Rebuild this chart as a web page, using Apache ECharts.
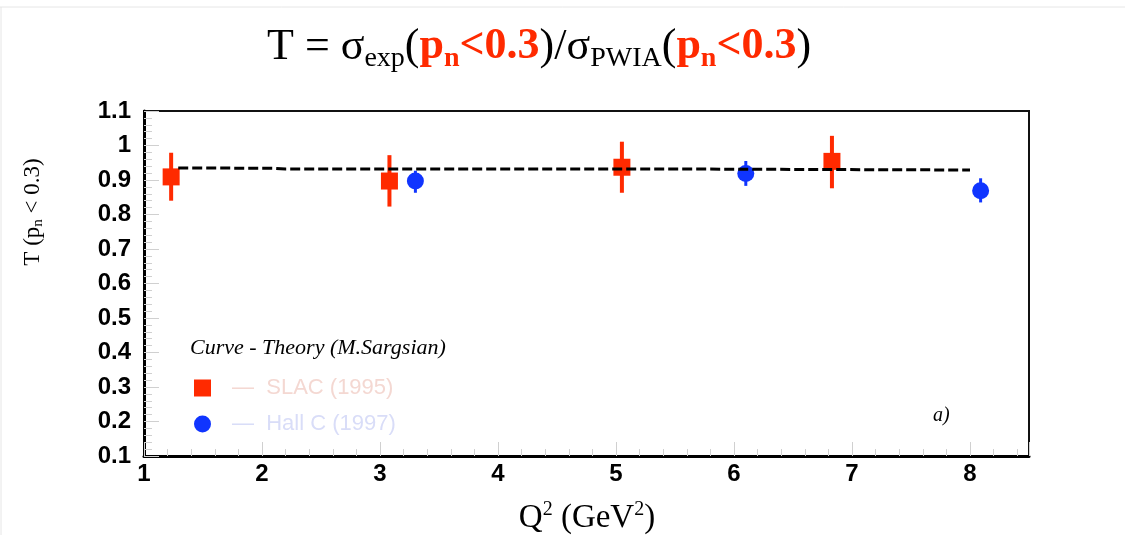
<!DOCTYPE html>
<html>
<head>
<meta charset="utf-8">
<script src="https://cdn.jsdelivr.net/npm/echarts@6/dist/echarts.min.js"></script>
<style>
html,body{margin:0;padding:0;background:#fff;}
#main{width:1125px;height:535px;}
</style>
</head>
<body>
<div id="main"></div>
<script>
// SLAC (1995): [Q2, T]
var slacPoints = [[1.23, 0.909], [3.08, 0.897], [5.05, 0.937], [6.83, 0.954]];
// SLAC error bars: [Q2, low, high]
var slacErrors = [[1.23, 0.840, 0.979], [3.08, 0.823, 0.972], [5.05, 0.863, 1.011], [6.83, 0.876, 1.028]];
// Hall C (1997)
var hallcPoints = [[3.30, 0.897], [6.10, 0.919], [8.09, 0.869]];
var hallcErrors = [[3.30, 0.863, 0.927], [6.10, 0.883, 0.955], [8.09, 0.835, 0.905]];
// theory curve (M.Sargsian)
var theoryCurve = [[1.29, 0.935], [2.1, 0.934], [2.2, 0.932], [5.4, 0.932], [7.1, 0.930], [8.0, 0.929]];

var serif = '"Liberation Serif","Times New Roman",serif';
var sans = '"Liberation Sans",Arial,sans-serif';

function errorBar(color, width){
	return function (params, api){
		var top = api.coord([api.value(0), api.value(2)]);
		var bot = api.coord([api.value(0), api.value(1)]);
		return {
			type: 'line',
			shape: {x1: top[0], y1: top[1], x2: bot[0], y2: bot[1]},
			style: {stroke: color, lineWidth: width}
		};
	};
}

var myChart = echarts.init(document.getElementById('main'));
var option = {
	animation: false,
	title: {
		left: 262,
		top: 16,
		text: '{m|T = σ}{s|exp}{m|(}{r|p}{rs|n}{r|<0.3}{m|)/σ}{s|PWIA}{m|(}{r|p}{rs|n}{r|<0.3}{m|)}',
		textStyle: {
			fontWeight: 'normal',
			rich: {
				m: {fontFamily: serif, fontSize: 44, fontWeight: 'normal', color: '#000', lineHeight: 52},
				s: {fontFamily: serif, fontSize: 28, fontWeight: 'normal', color: '#000', lineHeight: 16, verticalAlign: 'bottom'},
				r: {fontFamily: serif, fontSize: 44, fontWeight: 'bold', color: '#ff2a00', lineHeight: 52},
				rs: {fontFamily: serif, fontSize: 28, fontWeight: 'bold', color: '#ff2a00', lineHeight: 16, verticalAlign: 'bottom'}
			}
		}
	},
	legend: {
		orient: 'vertical',
		left: 189,
		top: 372,
		itemWidth: 17,
		itemHeight: 17,
		itemGap: 14,
		formatter: function (name){ return '—  ' + name; },
		textStyle: {fontFamily: sans, fontSize: 22, lineHeight: 20, padding: [0, 0, 0, 16]},
		data: [
			{name: 'SLAC (1995)', icon: 'rect', textStyle: {color: '#f4d8d2'}},
			{name: 'Hall C (1997)', icon: 'circle', textStyle: {color: '#d9ddf8'}}
		]
	},
	grid: {
		left: 144,
		right: 96,
		top: 111,
		bottom: 79,
		show: true,
		borderColor: '#111',
		borderWidth: 2
	},
	xAxis: {
		type: 'value',
		min: 1,
		max: 8.5,
		interval: 1,
		axisLine: {show: true, onZero: false, lineStyle: {color: '#000', width: 3}},
		axisTick: {show: true, inside: true, length: 14, lineStyle: {color: '#d0d0d0'}},
		minorTick: {show: true, splitNumber: 5, length: 7, lineStyle: {color: '#d0d0d0'}},
		splitLine: {show: false},
		axisLabel: {fontFamily: sans, fontWeight: 'bold', fontSize: 24, color: '#000', margin: 6,
			showMaxLabel: false,
			formatter: function (v){ return v % 1 === 0 ? String(v) : ''; }}
	},
	yAxis: {
		type: 'value',
		min: 0.1,
		max: 1.1,
		interval: 0.1,
		axisLine: {show: true, onZero: false, lineStyle: {color: '#000', width: 3}},
		axisTick: {show: true, inside: true, length: 15, lineStyle: {color: '#d0d0d0'}},
		minorTick: {show: true, splitNumber: 5, length: 8, lineStyle: {color: '#d0d0d0'}},
		splitLine: {show: false},
		axisLabel: {fontFamily: sans, fontWeight: 'bold', fontSize: 24, color: '#000', margin: 13,
			formatter: function (v){ return String(Math.round(v * 10) / 10); }}
	},
	graphic: [
		{type: 'line', shape: {x1: 0, y1: 7, x2: 1125, y2: 7}, style: {stroke: '#e6e6e6', lineWidth: 1}},
		{type: 'line', shape: {x1: 1, y1: 7, x2: 1, y2: 535}, style: {stroke: '#e6e6e6', lineWidth: 1}},
		{
			type: 'text', x: 33, y: 212, rotation: Math.PI / 2,
			style: {
				text: '{a|T (p}{b|n}{a| < 0.3)}',
				align: 'center', verticalAlign: 'middle',
				rich: {
					a: {fontFamily: serif, fontSize: 23, fill: '#000', lineHeight: 26},
					b: {fontFamily: serif, fontSize: 15, fill: '#000', lineHeight: 14, verticalAlign: 'bottom'}
				}
			}
		},
		{
			type: 'text', x: 587, y: 518,
			style: {
				text: '{a|Q}{b|2}{a| (GeV}{b|2}{a|)}',
				align: 'center', verticalAlign: 'middle',
				rich: {
					a: {fontFamily: serif, fontSize: 33, fill: '#000', lineHeight: 36},
					b: {fontFamily: serif, fontSize: 20, fill: '#000', lineHeight: 22, verticalAlign: 'top'}
				}
			}
		},
		{
			type: 'text', x: 190, y: 348,
			style: {text: 'Curve - Theory (M.Sargsian)', fontFamily: serif, fontStyle: 'italic', fontSize: 22,
				fill: '#000', verticalAlign: 'middle'}
		},
		{
			type: 'text', x: 933, y: 416,
			style: {text: 'a)', fontFamily: serif, fontStyle: 'italic', fontSize: 20, fill: '#000', verticalAlign: 'middle'}
		}
	],
	series: [
		{
			name: 'theory',
			type: 'line',
			data: theoryCurve,
			symbol: 'none',
			lineStyle: {color: '#000', width: 3, type: [10, 4]},
			z: 4
		},
		{
			type: 'custom',
			data: slacErrors,
			renderItem: errorBar('#ff2a00', 4),
			z: 2
		},
		{
			type: 'custom',
			data: hallcErrors,
			renderItem: errorBar('#1035ff', 3),
			z: 2
		},
		{
			name: 'SLAC (1995)',
			type: 'scatter',
			data: slacPoints,
			symbol: 'rect',
			symbolSize: 17,
			itemStyle: {color: '#ff2a00', opacity: 1},
			z: 3
		},
		{
			name: 'Hall C (1997)',
			type: 'scatter',
			data: hallcPoints,
			symbol: 'circle',
			symbolSize: 17,
			itemStyle: {color: '#1035ff', opacity: 1},
			z: 3
		}
	]
};
myChart.setOption(option);
</script>
</body>
</html>
